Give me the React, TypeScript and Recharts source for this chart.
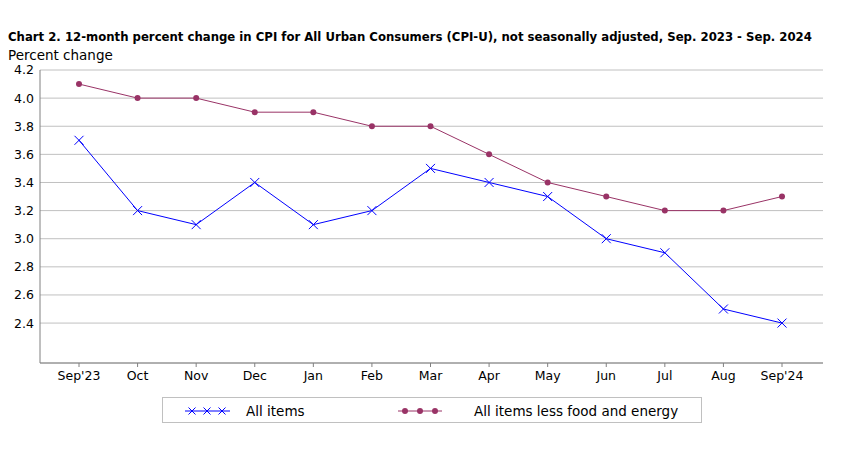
import { LineChart, Line, XAxis, YAxis, CartesianGrid } from 'recharts'

const months = ["Sep'23", 'Oct', 'Nov', 'Dec', 'Jan', 'Feb', 'Mar', 'Apr', 'May', 'Jun', 'Jul', 'Aug', "Sep'24"]
const allItems = [3.7, 3.2, 3.1, 3.4, 3.1, 3.2, 3.5, 3.4, 3.3, 3.0, 2.9, 2.5, 2.4]
const lessFoodEnergy = [4.1, 4.0, 4.0, 3.9, 3.9, 3.8, 3.8, 3.6, 3.4, 3.3, 3.2, 3.2, 3.3]
const yTicks = [2.4, 2.6, 2.8, 3.0, 3.2, 3.4, 3.6, 3.8, 4.0, 4.2]

const data = months.map((m, i) => ({ month: m, all: allItems[i], core: lessFoodEnergy[i] }))

const FONT = '"DejaVu Sans", Verdana, sans-serif'
const TITLE_FONT = '"DejaVu Sans Condensed", "DejaVu Sans", sans-serif'
const BLUE = '#0000ff'
const MAROON = '#993366'
const AXIS = '#808080'

function Cross(props: any) {
  const { cx, cy, size = 4.5 } = props
  if (cx == null || cy == null) return null
  const s = size
  return (
    <path
      d={`M${cx - s},${cy - s}L${cx + s},${cy + s}M${cx - s},${cy + s}L${cx + s},${cy - s}`}
      stroke={BLUE}
      strokeWidth={1}
      fill="none"
    />
  )
}

function Legend() {
  return (
    <svg width={560} height={40} style={{ position: 'absolute', left: 150, top: 390 }}>
      <rect x={12.5} y={7.5} width={539} height={25} fill="#fff" stroke="#c0c0c0" />
      <line x1={35} x2={80} y1={21} y2={21} stroke={BLUE} />
      {[42, 57, 72].map((x) => (
        <Cross key={x} cx={x} cy={21} size={3.5} />
      ))}
      <text x={96} y={26} fontFamily={FONT} fontSize={13.5} fill="#000">
        All items
      </text>
      <line x1={248} x2={292} y1={21} y2={21} stroke={MAROON} />
      {[255, 270, 285].map((x) => (
        <circle key={x} cx={x} cy={21} r={3} fill={MAROON} />
      ))}
      <text x={324} y={26} fontFamily={FONT} fontSize={13.5} fill="#000">
        All items less food and energy
      </text>
    </svg>
  )
}

export default function App() {
  return (
    <div style={{ position: 'absolute', left: 0, top: 0, width: 841, height: 451, background: '#fff' }}>
      <div
        style={{
          position: 'absolute',
          left: 8,
          top: 28,
          fontFamily: TITLE_FONT,
          fontWeight: 'bold',
          fontSize: 13,
          lineHeight: '18px',
          whiteSpace: 'nowrap',
          color: '#000',
        }}
      >
        Chart 2. 12-month percent change in CPI for All Urban Consumers (CPI-U), not seasonally adjusted, Sep. 2023 - Sep. 2024
      </div>
      <div
        style={{
          position: 'absolute',
          left: 8,
          top: 46,
          fontFamily: FONT,
          fontSize: 13.5,
          lineHeight: '18px',
          whiteSpace: 'nowrap',
          color: '#000',
        }}
      >
        Percent change
      </div>
      <div style={{ position: 'absolute', left: 0, top: 0 }}>
        <LineChart width={841} height={451} data={data} margin={{ top: 70, right: 18, bottom: 58, left: 0 }}>
          <CartesianGrid vertical={false} stroke="#c0c0c0" />
          <XAxis
            dataKey="month"
            padding={{ left: 39, right: 41 }}
            interval={0}
            stroke={AXIS}
            tickSize={4}
            tickMargin={4}
            height={30}
            tick={{ fill: '#000', fontSize: 12.5, fontFamily: FONT }}
          />
          <XAxis xAxisId="top" orientation="top" dataKey="month" tick={false} tickLine={false} height={0} stroke={AXIS} />
          <YAxis
            domain={[2.116, 4.2]}
            ticks={yTicks}
            allowDataOverflow
            width={40}
            stroke={AXIS}
            tickLine={false}
            tickSize={0}
            tickMargin={6}
            tickFormatter={(v: number) => v.toFixed(1)}
            tick={{ fill: '#000', fontSize: 12.5, fontFamily: FONT }}
          />
          <YAxis yAxisId="right" orientation="right" tick={false} tickLine={false} width={0} stroke={AXIS} />
          <Line
            dataKey="core"
            stroke={MAROON}
            strokeWidth={1}
            dot={{ r: 3, fill: MAROON, stroke: MAROON, strokeWidth: 0 }}
            isAnimationActive={false}
          />
          <Line
            dataKey="all"
            stroke={BLUE}
            strokeWidth={1}
            dot={<Cross />}
            isAnimationActive={false}
          />
        </LineChart>
      </div>
      <Legend />
    </div>
  )
}
